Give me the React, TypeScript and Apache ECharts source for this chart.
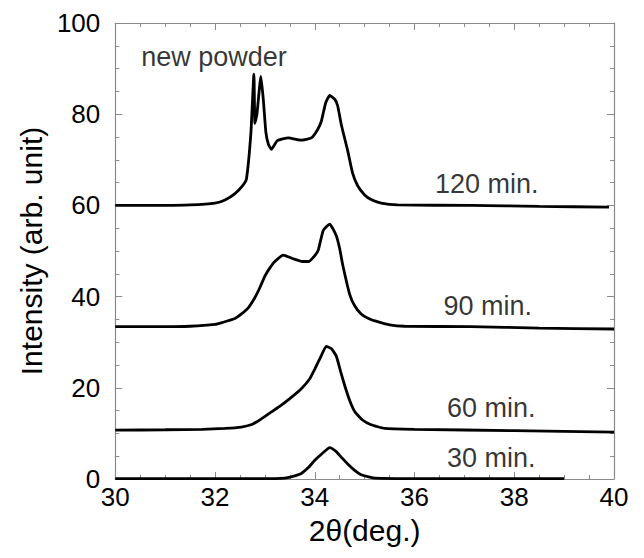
import React, { useEffect, useRef } from "react";
import * as echarts from "echarts";

const xTicks = [30, 32, 34, 36, 38, 40];
const yTicks = [0, 20, 40, 60, 80, 100];

const curve30: [number, number][] = [
  [30, 0.1], [33.2, 0.1], [33.4, 0.2], [33.6, 0.7], [33.73, 1.2], [33.87, 2.5], [34.0, 4.1],
  [34.15, 5.6], [34.3, 6.9], [34.42, 6.1], [34.53, 4.8], [34.66, 3.3], [34.8, 1.9],
  [34.92, 1.0], [35.06, 0.5], [35.2, 0.2], [36, 0.1], [39.0, 0.1],
];

const curve60: [number, number][] = [
  [30, 10.7], [31, 10.8], [31.74, 10.9], [32.2, 11.1], [32.53, 11.4], [32.75, 12.0],
  [32.93, 13.2], [33.13, 14.7], [33.33, 16.2], [33.53, 17.9], [33.73, 19.8], [33.9, 22],
  [34.0, 24.1], [34.12, 26.8], [34.23, 29.1], [34.33, 28.6], [34.43, 27.0], [34.52, 23.5],
  [34.6, 20.5], [34.7, 17.2], [34.8, 14.8], [34.95, 13], [35.13, 11.9], [35.4, 11.1],
  [36, 10.9], [38, 10.6], [40, 10.3],
];

const curve90: [number, number][] = [
  [30, 33.4], [31, 33.4], [31.5, 33.5], [32.0, 33.9], [32.14, 34.3], [32.4, 35.2],
  [32.53, 36.2], [32.67, 37.6], [32.8, 39.8], [32.9, 42], [33.0, 44.5], [33.1, 46.3],
  [33.2, 47.7], [33.37, 49.1], [33.57, 48.3], [33.75, 47.7], [33.88, 47.7], [34.0, 49],
  [34.07, 50.2], [34.17, 54.5], [34.3, 55.9], [34.43, 53.4], [34.5, 50.5], [34.56, 47.0],
  [34.7, 40.5], [34.8, 38], [34.93, 36.2], [35.1, 35.1], [35.26, 34.5], [35.5, 33.8],
  [35.8, 33.5], [37.13, 33.4], [38.5, 33.1], [40, 32.9],
];

const curve120: [number, number][] = [
  [30, 60.0], [31, 60.0], [31.5, 60.1], [32.0, 60.5], [32.2, 61.2], [32.4, 62.6],
  [32.55, 64.3], [32.63, 65.8], [32.72, 76], [32.78, 88.8], [32.8, 78], [32.84, 80],
  [32.92, 88.3], [32.97, 83], [33.02, 76], [33.07, 73.4], [33.13, 72.3], [33.25, 74.2],
  [33.47, 74.8], [33.73, 74.3], [33.93, 74.8], [34.05, 76.5], [34.13, 78.4], [34.22, 82.5],
  [34.3, 84.1], [34.4, 83.3], [34.46, 81.8], [34.53, 77.8], [34.66, 72], [34.76, 67],
  [34.86, 64.3], [35.0, 62.3], [35.13, 61.3], [35.33, 60.5], [35.66, 60.1], [37.13, 60.0],
  [38.5, 59.8], [39.9, 59.6],
];

const annotations: { text: string; x: number; y: number }[] = [
  { text: "new powder", x: 31.98, y: 92.6 },
  { text: "120 min.", x: 37.45, y: 64.8 },
  { text: "90 min.", x: 37.47, y: 38.0 },
  { text: "60 min.", x: 37.54, y: 15.5 },
  { text: "30 min.", x: 37.54, y: 4.6 },
];

const FONT = "Liberation Sans, Arial, sans-serif";
const AXIS_COLOR = "#8a8a8a";
const TEXT_COLOR = "#000";

export default function App() {
  const ref = useRef<HTMLDivElement>(null);
  useEffect(() => {
    if (!ref.current) return;
    const chart = echarts.init(ref.current, undefined, { renderer: "svg" });
    const lineSeries = (data: [number, number][]) => ({
      type: "line",
      data,
      xAxisIndex: 0,
      yAxisIndex: 0,
      showSymbol: false,
      symbol: "none",
      smooth: 0.15,
      lineStyle: { color: "#000", width: 2.8 },
      z: 3,
    });
    const baseX = {
      type: "value",
      min: xTicks[0],
      max: xTicks[xTicks.length - 1],
      interval: 2,
      axisLine: { show: true, onZero: false, lineStyle: { color: AXIS_COLOR, width: 1.2 } },
      axisTick: { show: true, inside: true, length: 7, lineStyle: { color: AXIS_COLOR } },
      minorTick: { show: true, splitNumber: 4, length: 4, lineStyle: { color: AXIS_COLOR } },
      splitLine: { show: false },
    };
    const baseY = {
      type: "value",
      min: yTicks[0],
      max: yTicks[yTicks.length - 1],
      interval: 20,
      axisLine: { show: true, onZero: false, lineStyle: { color: AXIS_COLOR, width: 1.2 } },
      axisTick: { show: true, inside: true, length: 7, lineStyle: { color: AXIS_COLOR } },
      minorTick: { show: true, splitNumber: 4, length: 4, lineStyle: { color: AXIS_COLOR } },
      splitLine: { show: false },
    };
    chart.setOption({
      animation: false,
      backgroundColor: "#fff",
      grid: { left: 105, right: 22, top: 15, bottom: 61, containLabel: false },
      xAxis: [
        {
          ...baseX,
          position: "bottom",
          name: "2θ(deg.)",
          nameLocation: "middle",
          nameGap: 36,
          nameTextStyle: { fontFamily: FONT, fontSize: 30, color: TEXT_COLOR },
          axisLabel: { fontFamily: FONT, fontSize: 26, color: TEXT_COLOR, margin: 5 },
        },
        { ...baseX, position: "top", axisLabel: { show: false } },
      ],
      yAxis: [
        {
          ...baseY,
          position: "left",
          name: "Intensity (arb. unit)",
          nameLocation: "middle",
          nameGap: 62,
          nameRotate: 90,
          nameTextStyle: { fontFamily: FONT, fontSize: 30, color: TEXT_COLOR },
          axisLabel: { fontFamily: FONT, fontSize: 26, color: TEXT_COLOR, margin: 15 },
        },
        { ...baseY, position: "right", axisLabel: { show: false } },
      ],
      series: [
        lineSeries(curve30),
        lineSeries(curve60),
        lineSeries(curve90),
        lineSeries(curve120),
        {
          type: "scatter",
          xAxisIndex: 0,
          yAxisIndex: 0,
          symbolSize: 0,
          data: annotations.map((a) => ({ value: [a.x, a.y], name: a.text })),
          label: {
            show: true,
            position: "inside",
            formatter: (p: any) => p.name,
            fontFamily: FONT,
            fontSize: 27,
            color: TEXT_COLOR,
          },
          silent: true,
          z: 5,
        },
      ],
    });
    return () => chart.dispose();
  }, []);
  return <div ref={ref} style={{ width: 628, height: 542 }} />;
}
